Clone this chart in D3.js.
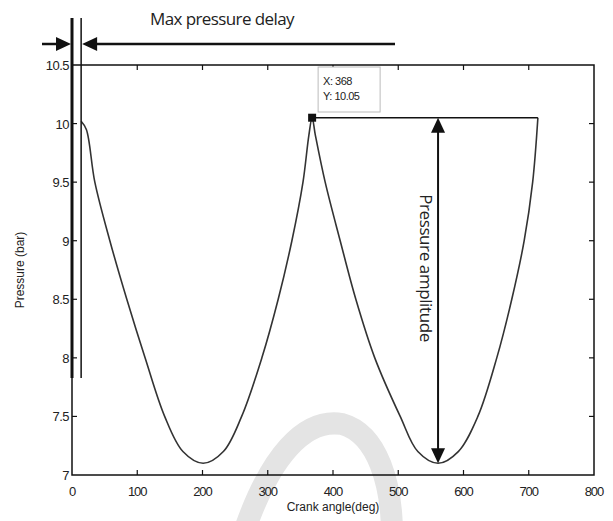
<!DOCTYPE html>
<html>
<head>
<meta charset="utf-8">
<script src="https://cdn.jsdelivr.net/npm/d3@7"></script>
<style>
  body { margin: 0; background: #fff; }
  svg { display: block; }
  text { font-family: "Liberation Sans", Arial, sans-serif; fill: #222; }
  .nota { font-family: "Open Sans", "Liberation Sans Narrow", sans-serif; }
</style>
</head>
<body>
<svg id="grafico" width="613" height="521"></svg>
<script>
// DATI
var angoli    = [14, 22, 35, 58, 84, 112, 142, 170, 201, 232, 260, 291, 316, 337, 354, 363, 368, 373, 388, 411, 435, 464, 503, 530, 561, 592, 622, 651, 674, 693, 706, 714];
var pressioni = [10.02, 9.95, 9.5, 9.0, 8.5, 8.0, 7.5, 7.2, 7.1, 7.2, 7.5, 8.0, 8.5, 9.0, 9.5, 9.9, 10.05, 9.9, 9.5, 9.0, 8.5, 8.0, 7.5, 7.2, 7.1, 7.2, 7.5, 8.0, 8.5, 9.0, 9.5, 10.05];

var tickX = [0, 100, 200, 300, 400, 500, 600, 700, 800];
var tickY = [7, 7.5, 8, 8.5, 9, 9.5, 10, 10.5];

var picco = { x: 368, y: 10.05 };
var minimo = { x: 561, y: 7.1 };
var ritardo = 14;   // gradi del picco iniziale
var fineCurva = 714;

// SCALE
var svg = d3.select("#grafico");
var x = d3.scaleLinear().domain([0, 800]).range([72, 594]);
var y = d3.scaleLinear().domain([7, 10.5]).range([475, 65]);

var nero = "#111";

// watermark
svg.append("path")
    .attr("d", "M243,535 C270,455 305,418 342,424 C378,434 392,485 392,535")
    .attr("fill", "none")
    .attr("stroke", "#e4e4e4")
    .attr("stroke-width", 22);

// cornice
svg.append("rect")
    .attr("x", x(0)).attr("y", y(10.5))
    .attr("width", x(800) - x(0)).attr("height", y(7) - y(10.5))
    .attr("fill", "none").attr("stroke", nero).attr("stroke-width", 1.5);

// tick verso l'interno
var lt = 5;
tickX.forEach(function(t){
    if (t == 0 || t == 800) return;
    svg.append("line").attr("x1", x(t)).attr("x2", x(t)).attr("y1", y(7)).attr("y2", y(7) - lt)
        .attr("stroke", nero).attr("stroke-width", 1.2);
    svg.append("line").attr("x1", x(t)).attr("x2", x(t)).attr("y1", y(10.5)).attr("y2", y(10.5) + lt)
        .attr("stroke", nero).attr("stroke-width", 1.2);
});
tickY.forEach(function(t){
    if (t == 7 || t == 10.5) return;
    svg.append("line").attr("x1", x(0)).attr("x2", x(0) + lt).attr("y1", y(t)).attr("y2", y(t))
        .attr("stroke", nero).attr("stroke-width", 1.2);
    svg.append("line").attr("x1", x(800)).attr("x2", x(800) - lt).attr("y1", y(t)).attr("y2", y(t))
        .attr("stroke", nero).attr("stroke-width", 1.2);
});

svg.selectAll(".lx")
    .data(tickX)
    .enter()
    .append("text")
    .attr("class", "lx")
    .attr("x", d => x(d))
    .attr("y", y(7) + 21)
    .style("text-anchor", "middle")
    .style("font-size", "13px")
    .style("letter-spacing", "-1px")
    .text(d => d);

svg.selectAll(".ly")
    .data(tickY)
    .enter()
    .append("text")
    .attr("class", "ly")
    .attr("x", x(0) - 3)
    .attr("y", d => y(d) + 5)
    .style("text-anchor", "end")
    .style("font-size", "13px")
    .style("letter-spacing", "-0.5px")
    .text(d => d);

svg.append("text")
    .attr("x", 333).attr("y", 511)
    .style("text-anchor", "middle").style("font-size", "12px")
    .text("Crank angle(deg)");

svg.append("text")
    .attr("transform", "translate(24,270) rotate(-90)")
    .style("text-anchor", "middle").style("font-size", "12px")
    .text("Pressure (bar)");

// curva
var punti = angoli.map((a, i) => [a, pressioni[i]]);
var linea = d3.line()
    .x(d => x(d[0]))
    .y(d => y(d[1]))
    .curve(d3.curveCatmullRom.alpha(0.5));

svg.append("path")
    .datum(punti)
    .attr("d", linea)
    .attr("fill", "none")
    .attr("stroke", "#333")
    .attr("stroke-width", 1.6);

// linee verticali del ritardo
var yTopLinee = 18, yBassoLinee = 378;
svg.append("line").attr("x1", x(0)).attr("x2", x(0)).attr("y1", yTopLinee).attr("y2", yBassoLinee)
    .attr("stroke", nero).attr("stroke-width", 3);
svg.append("line").attr("x1", x(ritardo)).attr("x2", x(ritardo)).attr("y1", yTopLinee).attr("y2", yBassoLinee)
    .attr("stroke", nero).attr("stroke-width", 1.5);

// frecce orizzontali
var yFreccia = 44;
svg.append("line").attr("x1", 42).attr("x2", x(0) - 12).attr("y1", yFreccia).attr("y2", yFreccia)
    .attr("stroke", nero).attr("stroke-width", 2.5);
svg.append("path")
    .attr("d", "M" + (x(0) - 1) + "," + yFreccia + " l-15,-7 l0,14 z")
    .attr("fill", nero);
svg.append("line").attr("x1", x(ritardo) + 12).attr("x2", 395).attr("y1", yFreccia).attr("y2", yFreccia)
    .attr("stroke", nero).attr("stroke-width", 2.5);
svg.append("path")
    .attr("d", "M" + (x(ritardo) + 1) + "," + yFreccia + " l15,-7 l0,14 z")
    .attr("fill", nero);

svg.append("text")
    .attr("class", "nota")
    .attr("x", 222).attr("y", 25)
    .style("text-anchor", "middle").style("font-size", "17px")
    .style("letter-spacing", "-0.6px")
    .text("Max pressure delay");

// datatip
svg.append("rect")
    .attr("x", x(picco.x) + 6).attr("y", y(10.5) + 2)
    .attr("width", 62).attr("height", 45)
    .attr("fill", "#fff").attr("stroke", "#bbb").attr("stroke-width", 1);
svg.append("text").attr("x", x(picco.x) + 11).attr("y", y(10.5) + 20)
    .style("font-size", "11px").style("letter-spacing", "-0.5px").text("X: " + picco.x);
svg.append("text").attr("x", x(picco.x) + 11).attr("y", y(10.5) + 35)
    .style("font-size", "11px").style("letter-spacing", "-0.5px").text("Y: " + picco.y.toFixed(2));

// linea orizzontale del picco
svg.append("line")
    .attr("x1", x(picco.x)).attr("x2", x(fineCurva))
    .attr("y1", y(picco.y)).attr("y2", y(picco.y))
    .attr("stroke", nero).attr("stroke-width", 1.6);
svg.append("rect")
    .attr("x", x(picco.x) - 4).attr("y", y(picco.y) - 4)
    .attr("width", 8).attr("height", 8)
    .attr("fill", nero);

// freccia ampiezza
var xa = x(minimo.x);
svg.append("line").attr("x1", xa).attr("x2", xa).attr("y1", y(picco.y) + 14).attr("y2", y(minimo.y) - 14)
    .attr("stroke", nero).attr("stroke-width", 2);
svg.append("path")
    .attr("d", "M" + xa + "," + y(picco.y) + " l-7,15 l14,0 z").attr("fill", nero);
svg.append("path")
    .attr("d", "M" + xa + "," + y(minimo.y) + " l-7,-15 l14,0 z").attr("fill", nero);

svg.append("text")
    .attr("class", "nota")
    .attr("transform", "translate(420,268) rotate(90)")
    .style("text-anchor", "middle").style("font-size", "17px")
    .style("letter-spacing", "-0.4px")
    .text("Pressure amplitude");
</script>
</body>
</html>
